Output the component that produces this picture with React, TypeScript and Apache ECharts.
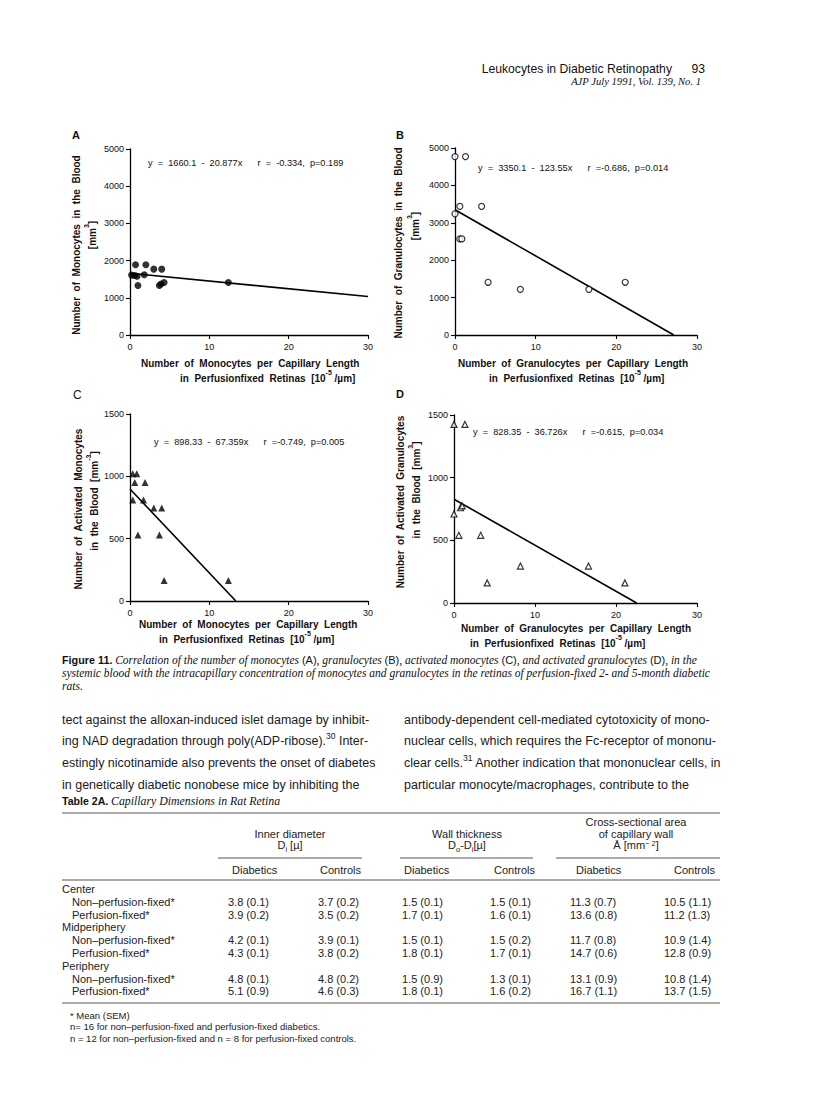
import React, { useEffect, useRef } from 'react';
import * as echarts from 'echarts';

// ---------- data ----------
const monoX = [0.2, 0.6, 0.9, 0.7, 1.0, 1.8, 2.0, 3.0, 3.7, 4.0, 3.9, 4.3, 12.4];
const monoY = [1610, 1600, 1580, 1890, 1330, 1620, 1890, 1770, 1330, 1770, 1370, 1410, 1410];
const granX = [0, 1.3, 0.6, 0, 3.3, 0.6, 0.85, 4.1, 8.1, 16.6, 21.1];
const granY = [4770, 4770, 3440, 3240, 3440, 2570, 2570, 1410, 1220, 1220, 1410];
const actMonoX = [0.35, 0.85, 0.6, 1.9, 0.35, 1.7, 3.0, 4.0, 1.0, 3.7, 4.3, 12.4];
const actMonoY = [1020, 1020, 950, 950, 810, 810, 745, 745, 530, 530, 165, 165];
const actGranX = [0, 1.35, 0, 0.8, 1.0, 0.6, 3.3, 4.1, 8.2, 16.6, 21.1];
const actGranY = [1425, 1425, 710, 760, 775, 540, 540, 160, 295, 295, 160];

// regression line end points (from the printed equations)
const fitA = [[0, 1660.1], [30, 1033.8]];
const fitB = [[0, 3350.1], [27.12, 0]];
const fitC = [[0, 898.33], [13.34, 0]];
const fitD = [[0, 828.35], [22.55, 0]];

const xTicks = ['0', '10', '20', '30'];
const equations = [
  'y  =  1660.1  -  20.877x      r  =  -0.334,  p=0.189',
  'y  =  3350.1  -  123.55x      r  =-0.686,  p=0.014',
  'y  =  898.33  -  67.359x      r  =-0.749,  p=0.005',
  'y  =  828.35  -  36.726x      r  =-0.615,  p=0.034',
];

const tableGroups = ['Center', 'Midperiphery', 'Periphery'];
const rowLabels = ['Non\u2013perfusion-fixed*', 'Perfusion-fixed*'];
const tableValues = [
  ['3.8 (0.1)', '3.7 (0.2)', '1.5 (0.1)', '1.5 (0.1)', '11.3 (0.7)', '10.5 (1.1)'],
  ['3.9 (0.2)', '3.5 (0.2)', '1.7 (0.1)', '1.6 (0.1)', '13.6 (0.8)', '11.2 (1.3)'],
  ['4.2 (0.1)', '3.9 (0.1)', '1.5 (0.1)', '1.5 (0.2)', '11.7 (0.8)', '10.9 (1.4)'],
  ['4.3 (0.1)', '3.8 (0.2)', '1.8 (0.1)', '1.7 (0.1)', '14.7 (0.6)', '12.8 (0.9)'],
  ['4.8 (0.1)', '4.8 (0.2)', '1.5 (0.9)', '1.3 (0.1)', '13.1 (0.9)', '10.8 (1.4)'],
  ['5.1 (0.9)', '4.6 (0.3)', '1.8 (0.1)', '1.6 (0.2)', '16.7 (1.1)', '13.7 (1.5)'],
];
const subHeads = ['Diabetics', 'Controls', 'Diabetics', 'Controls', 'Diabetics', 'Controls'];
const footnotes = [
  '* Mean (SEM)',
  'n= 16 for non\u2013perfusion-fixed and perfusion-fixed diabetics.',
  'n = 12 for non\u2013perfusion-fixed and n = 8 for perfusion-fixed controls.',
];
const leftPara = [
  'tect against the alloxan-induced islet damage by inhibit-',
  'ing NAD degradation through poly(ADP-ribose).{s|30} Inter-',
  'estingly nicotinamide also prevents the onset of diabetes',
  'in genetically diabetic nonobese mice by inhibiting the',
];
const rightPara = [
  'antibody-dependent cell-mediated cytotoxicity of mono-',
  'nuclear cells, which requires the Fc-receptor of mononu-',
  'clear cells.{s|31} Another indication that mononuclear cells, in',
  'particular monocyte/macrophages, contribute to the',
];

const SANS = '"Liberation Sans", Arial, Helvetica, sans-serif';
const SERIF = '"Liberation Serif", "Times New Roman", serif';

function txt(x: number, y: number, text: string, o: any = {}) {
  const { rotation, ...st } = o;
  return {
    type: 'text', x, y, rotation: rotation || 0, silent: true, z: 100,
    style: {
      text, fill: '#111', fontFamily: SANS, fontSize: 10,
      align: 'left', verticalAlign: 'middle', ...st,
    },
  };
}
function hline(x1: number, x2: number, y: number, w = 1, c = '#555') {
  return { type: 'line', silent: true, shape: { x1, y1: y, x2, y2: y }, style: { stroke: c, lineWidth: w } };
}

const supRich = (fs: number, bold = true) => ({
  n: { fontSize: fs, fontWeight: bold ? 'bold' : 'normal', fontFamily: SANS, lineHeight: fs + 4, verticalAlign: 'bottom', fill: '#111' },
  s: { fontSize: fs - 3, fontWeight: bold ? 'bold' : 'normal', fontFamily: SANS, lineHeight: fs + 4, verticalAlign: 'top', fill: '#111' },
});

const grids = [
  { left: 130, top: 149, width: 238, height: 186 },
  { left: 455, top: 148, width: 242, height: 187 },
  { left: 130, top: 414, width: 238, height: 187 },
  { left: 454, top: 415, width: 243, height: 188 },
];

function axisCommon() {
  return {
    axisLine: { show: true, onZero: false, lineStyle: { color: '#000', width: 1.3 } },
    axisTick: { show: true, length: 4, lineStyle: { color: '#000', width: 1.1 } },
    axisLabel: { color: '#111', fontSize: 9, fontFamily: SANS, margin: 7 },
    splitLine: { show: false },
  };
}

export default function App() {
  const ref = useRef<HTMLDivElement>(null);
  useEffect(() => {
    if (!ref.current) return;
    const chart = echarts.init(ref.current, null, { renderer: 'svg' });
    const xAxes = grids.map((_, i) => ({
      type: 'value', gridIndex: i, min: 0, max: 30, interval: 10, ...axisCommon(),
      axisLabel: { ...axisCommon().axisLabel, formatter: (v: number) => xTicks[Math.round(v / 10)] },
    }));
    const yAxes = grids.map((_, i) => ({
      type: 'value', gridIndex: i, min: 0, max: i < 2 ? 5000 : 1500, interval: i < 2 ? 1000 : 500, ...axisCommon(),
      axisLabel: { ...axisCommon().axisLabel, margin: 6, formatter: (v: number) => String(v) },
    }));
    const zip = (xs: number[], ys: number[]) => xs.map((x, k) => [x, ys[k]]);
    const scat = (i: number, data: number[][], symbol: string, size: number, filled: boolean) => ({
      type: 'scatter', xAxisIndex: i, yAxisIndex: i, data, symbol, symbolSize: size, z: 5,
      itemStyle: filled ? { color: '#000' } : { color: '#fff', borderColor: '#000', borderWidth: 1.2 },
    });
    const fit = (i: number, data: number[][]) => ({
      type: 'line', xAxisIndex: i, yAxisIndex: i, data, showSymbol: false, z: 3,
      lineStyle: { color: '#000', width: 1.6 },
    });

    const g: any[] = [];
    // header
    g.push(txt(672, 69, 'Leukocytes in Diabetic Retinopathy', { align: 'right', fontSize: 12.2 }));
    g.push(txt(705, 69, '93', { align: 'right', fontSize: 12.2 }));
    g.push(txt(701, 81, 'AJP July 1991, Vol. 139, No. 1', { align: 'right', fontFamily: SERIF, fontStyle: 'italic', fontSize: 10.6 }));

    // panel letters
    g.push(txt(72, 135, 'A', { fontWeight: 'bold', fontSize: 11 }));
    g.push(txt(396, 135, 'B', { fontWeight: 'bold', fontSize: 11 }));
    g.push(txt(73, 395, 'C', { fontSize: 12 }));
    g.push(txt(396, 394, 'D', { fontWeight: 'bold', fontSize: 11 }));

    // equations
    g.push(txt(148, 163, equations[0], { fontSize: 9.2 }));
    g.push(txt(478, 168, equations[1], { fontSize: 9.2 }));
    g.push(txt(154, 442, equations[2], { fontSize: 9.2 }));
    g.push(txt(473, 432, equations[3], { fontSize: 9.2 }));

    // y-axis titles (rotated)
    const rot = Math.PI / 2;
    const yt = { fontWeight: 'bold', fontSize: 10, align: 'center', rotation: rot };
    g.push(txt(76, 245, 'Number  of  Monocytes  in  the  Blood', yt));
    g.push(txt(90, 235, '{n|[mm}{s|3}{n|]}', { ...yt, rich: supRich(10) }));
    g.push(txt(398, 243, 'Number  of  Granulocytes  in  the  Blood', yt));
    g.push(txt(413, 226, '{n|[mm}{s|3}{n|]}', { ...yt, rich: supRich(10) }));
    g.push(txt(78, 509, 'Number  of  Activated  Monocytes', yt));
    g.push(txt(92, 501, '{n|in  the  Blood  [mm}{s|-3}{n|]}', { ...yt, rich: supRich(10) }));
    g.push(txt(400, 502, 'Number  of  Activated  Granulocytes', yt));
    g.push(txt(414, 490, '{n|in  the  Blood  [mm}{s|3}{n|]}', { ...yt, rich: supRich(10) }));

    // x-axis titles
    const xt = { fontWeight: 'bold', fontSize: 10 };
    g.push(txt(141, 363, 'Number  of  Monocytes  per  Capillary  Length', xt));
    g.push(txt(180, 376, '{n|in  Perfusionfixed  Retinas  [10}{s|-5}{n| /\u00b5m]}', { ...xt, rich: supRich(10) }));
    g.push(txt(458, 363, 'Number  of  Granulocytes  per  Capillary  Length', xt));
    g.push(txt(489, 376, '{n|in  Perfusionfixed  Retinas  [10}{s|-5}{n| /\u00b5m]}', { ...xt, rich: supRich(10) }));
    g.push(txt(139, 624, 'Number  of  Monocytes  per  Capillary  Length', xt));
    g.push(txt(159, 637, '{n|in  Perfusionfixed  Retinas  [10}{s|-5}{n| /\u00b5m]}', { ...xt, rich: supRich(10) }));
    g.push(txt(461, 628, 'Number  of  Granulocytes  per  Capillary  Length', xt));
    g.push(txt(470, 641, '{n|in  Perfusionfixed  Retinas  [10}{s|-5}{n| /\u00b5m]}', { ...xt, rich: supRich(10) }));

    // caption
    const capRich = {
      b: { fontFamily: SANS, fontWeight: 'bold', fontSize: 10.8, fill: '#111' },
      i: { fontFamily: SERIF, fontStyle: 'italic', fontSize: 11.5, fill: '#111' },
      s: { fontFamily: SANS, fontSize: 11, fill: '#111' },
    };
    g.push(txt(62, 660, '{b|Figure 11.} {i|Correlation of the number of monocytes }{s|(A)}{i|, granulocytes }{s|(B)}{i|, activated monocytes }{s|(C)}{i|, and activated granulocytes }{s|(D)}{i|, in the}', { rich: capRich }));
    g.push(txt(62, 673, '{i|systemic blood with the intracapillary concentration of monocytes and granulocytes in the retinas of perfusion-fixed 2- and 5-month diabetic}', { rich: capRich }));
    g.push(txt(62, 686, '{i|rats.}', { rich: capRich }));

    // body paragraphs
    const paraRich = {
      n: { fontFamily: SANS, fontSize: 12.5, fill: '#1a1a1a', lineHeight: 16, verticalAlign: 'bottom' },
      s: { fontFamily: SANS, fontSize: 8.5, fill: '#1a1a1a', lineHeight: 16, verticalAlign: 'top' },
    };
    const wrapN = (s: string) => s.split(/(\{s\|[^}]*\})/).map((p) => (p.startsWith('{s|') ? p : p ? `{n|${p}}` : '')).join('');
    leftPara.forEach((l, k) => g.push(txt(62, 718 + k * 21.7, wrapN(l), { rich: paraRich })));
    rightPara.forEach((l, k) => g.push(txt(404, 718 + k * 21.7, wrapN(l), { rich: paraRich })));

    // table
    const tRich = {
      b: { fontFamily: SANS, fontWeight: 'bold', fontSize: 10.6, fill: '#111' },
      i: { fontFamily: SERIF, fontStyle: 'italic', fontSize: 11.8, fill: '#111' },
    };
    g.push(txt(62, 801, '{b|Table 2A.} {i|Capillary Dimensions in Rat Retina}', { rich: tRich }));
    g.push(hline(62, 720, 813, 1.2));
    const th = { fontSize: 11, align: 'center', fill: '#222' };
    g.push(txt(636, 822, 'Cross-sectional area', th));
    g.push(txt(290, 834, 'Inner diameter', th));
    g.push(txt(467, 834, 'Wall thickness', th));
    g.push(txt(636, 834, 'of capillary wall', th));
    const subRich = {
      n: { fontFamily: SANS, fontSize: 11, fill: '#222', lineHeight: 14, verticalAlign: 'top' },
      d: { fontFamily: SANS, fontSize: 7.5, fill: '#222', lineHeight: 14, verticalAlign: 'bottom' },
      u: { fontFamily: SANS, fontSize: 7.5, fill: '#222', lineHeight: 14, verticalAlign: 'top' },
    };
    g.push(txt(290, 846, '{n|D}{d|i}{n| [\u00b5]}', { ...th, rich: subRich }));
    g.push(txt(467, 846, '{n|D}{d|o}{n|-D}{d|i}{n|[\u00b5]}', { ...th, rich: subRich }));
    g.push(txt(636, 846, '{n|\u0100 [mm}{u|\u2212 2}{n|]}', { ...th, rich: subRich }));
    g.push(hline(218, 362, 858, 1));
    g.push(hline(400, 533, 858, 1));
    g.push(hline(556, 720, 858, 1));
    const subX = [232, 320, 404, 494, 576, 674];
    subHeads.forEach((s, k) => g.push(txt(subX[k], 870, s, { fontSize: 11, fill: '#222' })));
    g.push(hline(62, 720, 880, 1.2));
    const colX = [228, 318, 402, 490, 570, 664];
    const rowH = 12.8;
    let y = 889;
    tableGroups.forEach((grp, gi) => {
      g.push(txt(62, y, grp, { fontSize: 11, fill: '#222' }));
      y += rowH;
      rowLabels.forEach((lab, ri) => {
        g.push(txt(72, y, lab, { fontSize: 11, fill: '#222' }));
        tableValues[gi * 2 + ri].forEach((v, c) => g.push(txt(colX[c], y, v, { fontSize: 11, fill: '#222' })));
        y += rowH;
      });
    });
    g.push(hline(62, 720, 1003, 1.2));
    footnotes.forEach((f, k) => g.push(txt(70, 1015 + k * 11.5, f, { fontSize: 9.5, fill: '#222' })));

    chart.setOption({
      animation: false,
      backgroundColor: '#fff',
      grid: grids.map((gr) => ({ ...gr, containLabel: false })),
      xAxis: xAxes,
      yAxis: yAxes,
      series: [
        fit(0, fitA), scat(0, zip(monoX, monoY), 'circle', 7, true),
        fit(1, fitB), scat(1, zip(granX, granY), 'circle', 6, false),
        fit(2, fitC), scat(2, zip(actMonoX, actMonoY), 'triangle', 7, true),
        fit(3, fitD), scat(3, zip(actGranX, actGranY), 'triangle', 6, false),
      ],
      graphic: g,
    });
    return () => chart.dispose();
  }, []);
  return <div ref={ref} style={{ position: 'absolute', left: 0, top: 0, width: 816, height: 1119, background: '#fff' }} />;
}
